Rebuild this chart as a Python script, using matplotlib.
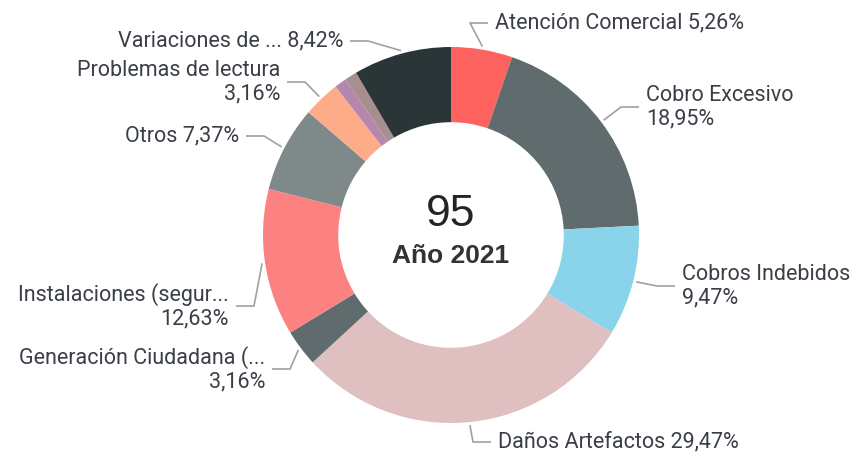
import numpy as np
import matplotlib.pyplot as plt

# datos del anillo (recuento de casos, año 2021)
categorias = ['Atención Comercial', 'Cobro Excesivo', 'Cobros Indebidos', 'Daños Artefactos',
              'Generación Ciudadana (...', 'Instalaciones (segur...', 'Otros', 'Problemas de lectura',
              'Otro A', 'Otro B', 'Variaciones de ...']
casos = [5, 18, 9, 28, 3, 12, 7, 3, 1, 1, 8]
colores = ['#FD625E', '#5F6B6D', '#8AD4EB', '#DFBFBF', '#5F6B6D', '#FB8281', '#7F898A',
           '#FDAB89', '#B687AC', '#A78F8F', '#293537']

total = sum(casos)
porcentajes = [100 * c / total for c in casos]

# etiquetas: texto, posición del ancla (px desde arriba), lado
etiquetas = {
    0: ('Atención Comercial {p}', (495, 23), 'left'),
    1: ('Cobro Excesivo\n{p}', (646, 107), 'left'),
    2: ('Cobros Indebidos\n{p}', (682, 286), 'left'),
    3: ('Daños Artefactos {p}', (498, 442), 'left'),
    4: ('Generación Ciudadana (...\n{p}', (265, 369), 'right'),
    5: ('Instalaciones (segur...\n{p}', (229, 306), 'right'),
    6: ('Otros {p}', (239, 136), 'right'),
    7: ('Problemas de lectura\n{p}', (280, 82), 'right'),
    10: ('Variaciones de ... {p}', (343, 41), 'right'),
}

W, H = 856, 453
cx, cy, R = 451, 235, 188

fig = plt.figure(figsize=(W / 100, H / 100), dpi=100)
ax = fig.add_axes([0, 0, 1, 1])

wedges, _ = ax.pie(casos, colors=colores, startangle=90, counterclock=False,
                   center=(cx, H - cy), radius=R,
                   wedgeprops=dict(width=0.4 * R, linewidth=0))
ax.set_xlim(0, W)
ax.set_ylim(0, H)
ax.set_aspect('equal')
ax.axis('off')

fuente = ['Roboto', 'DejaVu Sans']
for i, (txt, (lx, ly), lado) in etiquetas.items():
    w = wedges[i]
    ang = np.deg2rad((w.theta1 + w.theta2) / 2)
    x0 = cx + (R + 3) * np.cos(ang)
    y0 = (H - cy) + (R + 3) * np.sin(ang)
    ty = H - ly
    if lado == 'left':
        xe = lx - 7
        xm = xe - 18
    else:
        xe = lx + 7
        xm = xe + 18
    ax.plot([x0, xm, xe], [y0, ty, ty], color='#a0a0a0', lw=1.2, solid_capstyle='butt')
    p = f'{porcentajes[i]:.2f}%'.replace('.', ',')
    ax.text(lx, ty, txt.format(p=p), ha=lado, va='center', fontsize=15.5,
            family=fuente, color='#3a3f47', linespacing=1.15)

ax.text(cx, H - 214, str(total), ha='center', va='center', fontsize=32,
        family=['Liberation Sans', 'DejaVu Sans'], color='#252423')
ax.text(cx, H - 256, 'Año 2021', ha='center', va='center', fontsize=19,
        fontweight='bold', family=['Liberation Sans', 'DejaVu Sans'], color='#333333')

fig.savefig('out.png', dpi=100)
